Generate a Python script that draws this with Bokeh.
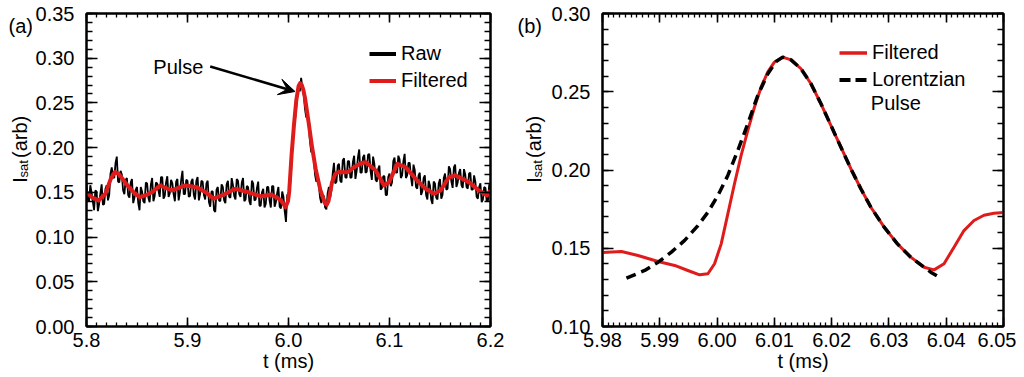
import numpy as np
from bokeh.plotting import figure
from bokeh.models import (Range1d, FixedTicker, PrintfTickFormatter, CustomJSTickFormatter,
                          LinearAxis, Label, Arrow, VeeHead, Legend, LegendItem)
from bokeh.core.properties import value
from bokeh.layouts import row
from bokeh.embed import file_html
from bokeh.resources import INLINE

FONT = "Liberation Sans"
RED = "#e01b1b"
FS = "20px"

# ---------------- data: panel (a) ----------------
# raw probe signal on an even time grid 5.8 .. 6.2 ms
raw_vals = [
    0.160, 0.142, 0.140, 0.158, 0.150, 0.140, 0.130, 0.152, 0.151, 0.129, 0.137, 0.149, 0.159, 0.136, 0.137, 0.154, 0.158, 0.141, 0.147, 0.171,
    0.178, 0.167, 0.166, 0.183, 0.190, 0.162, 0.161, 0.174, 0.170, 0.152, 0.148, 0.164, 0.166, 0.147, 0.144, 0.161, 0.165, 0.138, 0.144, 0.153,
    0.156, 0.138, 0.130, 0.156, 0.151, 0.140, 0.138, 0.161, 0.160, 0.144, 0.139, 0.159, 0.166, 0.140, 0.146, 0.161, 0.160, 0.152, 0.145, 0.167,
    0.167, 0.143, 0.146, 0.161, 0.168, 0.145, 0.149, 0.164, 0.160, 0.148, 0.140, 0.162, 0.165, 0.141, 0.150, 0.164, 0.174, 0.148, 0.148, 0.164,
    0.163, 0.145, 0.146, 0.162, 0.165, 0.147, 0.142, 0.163, 0.167, 0.141, 0.148, 0.163, 0.162, 0.147, 0.142, 0.160, 0.163, 0.139, 0.134, 0.151,
    0.151, 0.130, 0.128, 0.153, 0.156, 0.141, 0.140, 0.159, 0.156, 0.141, 0.138, 0.159, 0.163, 0.145, 0.144, 0.166, 0.158, 0.146, 0.142, 0.165,
    0.163, 0.148, 0.145, 0.161, 0.166, 0.140, 0.142, 0.157, 0.156, 0.140, 0.136, 0.163, 0.160, 0.141, 0.142, 0.155, 0.162, 0.135, 0.135, 0.150,
    0.154, 0.133, 0.137, 0.156, 0.156, 0.141, 0.133, 0.157, 0.157, 0.134, 0.139, 0.149, 0.156, 0.134, 0.132, 0.151, 0.145, 0.129, 0.117, 0.147,
    0.149, 0.155, 0.171, 0.201, 0.221, 0.229, 0.242, 0.261, 0.269, 0.263, 0.278, 0.267, 0.260, 0.244, 0.234, 0.234, 0.225, 0.207, 0.195, 0.195,
    0.188, 0.170, 0.162, 0.165, 0.159, 0.144, 0.138, 0.146, 0.146, 0.133, 0.131, 0.149, 0.156, 0.144, 0.152, 0.171, 0.183, 0.160, 0.162, 0.180,
    0.182, 0.163, 0.161, 0.186, 0.188, 0.167, 0.166, 0.185, 0.185, 0.166, 0.167, 0.184, 0.191, 0.165, 0.174, 0.189, 0.198, 0.172, 0.172, 0.189,
    0.192, 0.172, 0.173, 0.192, 0.193, 0.174, 0.164, 0.190, 0.182, 0.164, 0.162, 0.176, 0.180, 0.153, 0.155, 0.168, 0.168, 0.147, 0.147, 0.167,
    0.171, 0.157, 0.161, 0.185, 0.189, 0.172, 0.172, 0.191, 0.187, 0.166, 0.169, 0.185, 0.193, 0.166, 0.169, 0.183, 0.183, 0.167, 0.157, 0.181,
    0.175, 0.156, 0.154, 0.169, 0.172, 0.147, 0.151, 0.166, 0.169, 0.147, 0.142, 0.163, 0.158, 0.142, 0.137, 0.162, 0.160, 0.144, 0.142, 0.160,
    0.165, 0.143, 0.147, 0.166, 0.171, 0.153, 0.154, 0.179, 0.176, 0.162, 0.155, 0.178, 0.181, 0.156, 0.161, 0.172, 0.176, 0.158, 0.155, 0.176,
    0.170, 0.156, 0.154, 0.171, 0.172, 0.153, 0.153, 0.169, 0.162, 0.145, 0.143, 0.156, 0.160, 0.139, 0.142, 0.156, 0.155, 0.140, 0.141, 0.159,
    0.157,
]
raw_t = np.linspace(5.8, 6.2, len(raw_vals))

filt_t = [5.800, 5.806, 5.812, 5.8188, 5.824, 5.828, 5.832, 5.837, 5.842, 5.8475,
          5.853, 5.859, 5.8649, 5.873, 5.8846, 5.8978, 5.9093, 5.918, 5.926, 5.937,
          5.947, 5.960, 5.9728, 5.9827, 5.990, 5.9926, 5.997, 5.9995, 6.0007, 6.003,
          6.0054, 6.0077, 6.010, 6.0115, 6.0130, 6.0147, 6.0164, 6.0199, 6.0233, 6.0269,
          6.0315, 6.0361, 6.0379, 6.0396, 6.0431, 6.0466, 6.050, 6.0585, 6.065, 6.0716,
          6.0765, 6.0864, 6.0946, 6.0996, 6.1078, 6.116, 6.1259, 6.1358, 6.144, 6.1506,
          6.1588, 6.1654, 6.1786, 6.1885, 6.1967, 6.200]
filt_v = [0.150, 0.144, 0.141, 0.1484, 0.165, 0.1726, 0.1707, 0.163, 0.1558, 0.149,
          0.1446, 0.147, 0.1502, 0.1577, 0.1521, 0.1577, 0.1558, 0.150, 0.1430, 0.1480,
          0.1540, 0.1502, 0.1454, 0.1476, 0.143, 0.1409, 0.1334, 0.140, 0.1507, 0.1912,
          0.2252, 0.2529, 0.2689, 0.2721, 0.2704, 0.2647, 0.2551, 0.2284, 0.2008, 0.1762,
          0.1528, 0.1379, 0.1362, 0.1401, 0.1613, 0.1711, 0.1728, 0.1726, 0.1781, 0.1825,
          0.1837, 0.1744, 0.1577, 0.1614, 0.1819, 0.1781, 0.1651, 0.1540, 0.1484, 0.1521,
          0.1669, 0.1688, 0.1614, 0.1521, 0.1465, 0.1521]

# ---------------- data: panel (b) ----------------
zoom_t = [5.980, 5.9833, 5.9862, 5.9897, 5.9926, 5.9949, 5.99695, 5.9984, 5.99956, 6.00072,
          6.00188, 6.00304, 6.0042, 6.00536, 6.00652, 6.00768, 6.00884, 6.0100, 6.01146, 6.01291,
          6.01465, 6.01639, 6.01814, 6.01988, 6.02162, 6.02336, 6.0251, 6.02685, 6.02917, 6.03149,
          6.03381, 6.03614, 6.03788, 6.03962, 6.04136, 6.0431, 6.04485, 6.04659, 6.04833, 6.050]
zoom_v = [0.1473, 0.1479, 0.1454, 0.1415, 0.1390, 0.1358, 0.1330, 0.1337, 0.1401, 0.1528,
          0.1720, 0.1912, 0.2093, 0.2252, 0.2401, 0.2529, 0.2625, 0.2689, 0.2721, 0.2704,
          0.2647, 0.2551, 0.2423, 0.2284, 0.2146, 0.2008, 0.1880, 0.1762, 0.1635, 0.1528,
          0.1443, 0.1379, 0.1362, 0.1401, 0.1507, 0.1613, 0.1677, 0.1711, 0.1724, 0.1728]

lor_t = [5.98418, 5.98737, 5.9897, 5.99202, 5.99434, 5.99666, 5.9984, 6.00014, 6.00188, 6.00362,
         6.00536, 6.0071, 6.00884, 6.0103, 6.01146, 6.01291, 6.01465, 6.01639, 6.01814, 6.01988,
         6.02162, 6.02336, 6.0251, 6.02685, 6.02917, 6.03149, 6.03381, 6.03614, 6.0373, 6.03904]
lor_v = [0.1309, 0.1358, 0.1411, 0.1475, 0.1550, 0.1645, 0.1730, 0.1837, 0.1965, 0.2125,
         0.2295, 0.2476, 0.2614, 0.2693, 0.2721, 0.2704, 0.2647, 0.2551, 0.2423, 0.2284,
         0.2146, 0.2008, 0.1880, 0.1762, 0.1635, 0.1528, 0.1443, 0.1379, 0.1347, 0.1309]

# tick labels
a_xticks = [5.8, 5.9, 6.0, 6.1, 6.2]
a_yticks = [0.00, 0.05, 0.10, 0.15, 0.20, 0.25, 0.30, 0.35]
b_xticks = [5.98, 5.99, 6.00, 6.01, 6.02, 6.03, 6.04, 6.05]
b_yticks = [0.10, 0.15, 0.20, 0.25, 0.30]

H = 377
TOP = 13
BOTTOM = 51


def style(p, xticks, xminor, yticks, yminor, xfmt, yfmt):
    p.xgrid.visible = False
    p.ygrid.visible = False
    p.outline_line_color = "black"
    p.outline_line_width = 2
    p.background_fill_color = "white"
    p.border_fill_color = "white"
    bottom = p.below[0]
    left = p.left[0]
    top = LinearAxis()
    right = LinearAxis()
    p.add_layout(top, "above")
    p.add_layout(right, "right")
    for ax in [bottom, top]:
        ax.ticker = FixedTicker(ticks=xticks, minor_ticks=xminor)
        ax.major_tick_in = 9
        ax.minor_tick_in = 4
    for ax in [left, right]:
        ax.ticker = FixedTicker(ticks=yticks, minor_ticks=yminor)
        ax.major_tick_in = 11
        ax.minor_tick_in = 6
    for ax in [bottom, left, top, right]:
        ax.major_tick_out = 0
        ax.minor_tick_out = 0
        ax.axis_line_width = 2
        ax.axis_line_color = "black"
        ax.major_tick_line_width = 1.6
        ax.minor_tick_line_width = 1.3
        ax.major_tick_line_color = "black"
        ax.minor_tick_line_color = "black"
        ax.major_label_text_font = FONT
        ax.major_label_text_font_size = FS
        ax.major_label_text_color = "black"
    for ax in [top, right]:
        ax.formatter = CustomJSTickFormatter(code="return ''")
        ax.major_label_standoff = 0
    bottom.formatter = PrintfTickFormatter(format=xfmt)
    left.formatter = PrintfTickFormatter(format=yfmt)
    bottom.major_label_standoff = 6
    left.major_label_standoff = 12
    bottom.axis_label = "t (ms)"
    bottom.axis_label_text_font = FONT
    bottom.axis_label_text_font_size = FS
    bottom.axis_label_text_font_style = "normal"
    bottom.axis_label_text_color = "black"
    bottom.axis_label_standoff = 0


def label_strip(width, panel_tag, tag_x, base_x):
    """Narrow strip (pixel coordinates, y from top) carrying the panel tag and y title."""
    s = figure(width=width, height=H, output_backend="svg", toolbar_location=None,
               x_range=Range1d(0, width), y_range=Range1d(H, 0),
               min_border=0, min_border_left=0, min_border_right=0,
               min_border_top=0, min_border_bottom=0)
    s.axis.visible = False
    s.xgrid.visible = False
    s.ygrid.visible = False
    s.outline_line_color = None
    s.background_fill_color = "white"
    s.border_fill_color = "white"
    common = dict(text_font=value(FONT), text_color="black")
    s.text(x=[tag_x], y=[15], text=[panel_tag], text_font_size=FS,
           text_baseline="middle", text_align="left", **common)
    s.text(x=[base_x], y=[204], text=["I"], text_font_size=FS, angle=np.pi / 2,
           text_baseline="alphabetic", text_align="left", **common)
    s.text(x=[base_x + 4], y=[197.5], text=["sat"], text_font_size="13px", angle=np.pi / 2,
           text_baseline="alphabetic", text_align="left", **common)
    s.text(x=[base_x], y=[174], text=["(arb)"], text_font_size=FS, angle=np.pi / 2,
           text_baseline="alphabetic", text_align="left", **common)
    return s


# ---------------- panel (a) ----------------
s1 = label_strip(32, "(a)", 8, 19)
p1 = figure(width=480, height=H, output_backend="svg", toolbar_location=None,
            x_range=Range1d(5.8, 6.2), y_range=Range1d(0.0, 0.35),
            min_border_left=53, min_border_right=22, min_border_top=TOP,
            min_border_bottom=BOTTOM)
style(p1, a_xticks, list(np.round(np.arange(5.8, 6.2001, 0.01), 3)),
      a_yticks, list(np.round(np.arange(0.0, 0.3501, 0.01), 3)), "%.1f", "%.2f")

p1.line(raw_t, raw_vals, line_color="black", line_width=1.8)
p1.line(filt_t, filt_v, line_color=RED, line_width=4, line_join="round")


def a_x(px):
    return 5.8 + (px - 85) * 0.4 / 405


def a_y(py):
    return (326 - py) * 0.35 / 313


p1.add_layout(Arrow(end=VeeHead(size=16, fill_color="black", line_color="black"),
                    x_start=a_x(209), y_start=a_y(66), x_end=a_x(294), y_end=a_y(91),
                    line_width=2.5, line_color="black"))
p1.add_layout(Label(x=a_x(152), y=a_y(66), text="Pulse", text_font=FONT,
                    text_font_size=FS, text_color="black", text_baseline="middle"))

lg_raw = p1.line([np.nan], [np.nan], line_color="black", line_width=4)
lg_filt = p1.line([np.nan], [np.nan], line_color=RED, line_width=4)
leg1 = Legend(items=[LegendItem(label="Raw", renderers=[lg_raw]),
                     LegendItem(label="Filtered", renderers=[lg_filt])],
              location=(283, 232), padding=0, spacing=0, margin=0,
              glyph_width=27, glyph_height=27, label_height=27, label_standoff=5,
              border_line_color=None, background_fill_alpha=0,
              label_text_font=FONT, label_text_font_size=FS, label_text_color="black")
p1.add_layout(leg1)

# ---------------- panel (b) ----------------
s2 = label_strip(36, "(b)", 5, 21)
p2 = figure(width=468, height=H, output_backend="svg", toolbar_location=None,
            x_range=Range1d(5.98, 6.05), y_range=Range1d(0.10, 0.30),
            min_border_left=53, min_border_right=13, min_border_top=TOP,
            min_border_bottom=BOTTOM)
style(p2, b_xticks, list(np.round(np.arange(5.98, 6.0501, 0.001), 4)),
      b_yticks, list(np.round(np.arange(0.10, 0.3001, 0.01), 3)), "%.2f", "%.2f")

p2.line(zoom_t, zoom_v, line_color=RED, line_width=3, line_join="round")
p2.line(lor_t, lor_v, line_color="black", line_width=3.5, line_dash="10 6")


def b_x(px):
    return 5.98 + (px - 601) * 0.07 / 402


def b_y(py):
    return 0.30 - (py - 13) * 0.20 / 313


p2.add_layout(Label(x=b_x(870), y=b_y(102), text="Pulse", text_font=FONT,
                    text_font_size=FS, text_color="black", text_baseline="middle"))

lg_f2 = p2.line([np.nan], [np.nan], line_color=RED, line_width=3.5)
lg_lor = p2.line([np.nan], [np.nan], line_color="black", line_width=4, line_dash="11 5")
leg2 = Legend(items=[LegendItem(label="Filtered", renderers=[lg_f2]),
                     LegendItem(label="Lorentzian", renderers=[lg_lor])],
              location=(237, 233), padding=0, spacing=0, margin=0,
              glyph_width=28, glyph_height=27, label_height=27, label_standoff=5,
              border_line_color=None, background_fill_alpha=0,
              label_text_font=FONT, label_text_font_size=FS, label_text_color="black")
p2.add_layout(leg2)

layout = row(s1, p1, s2, p2)
open("out.html", "w").write(file_html(layout, INLINE))
